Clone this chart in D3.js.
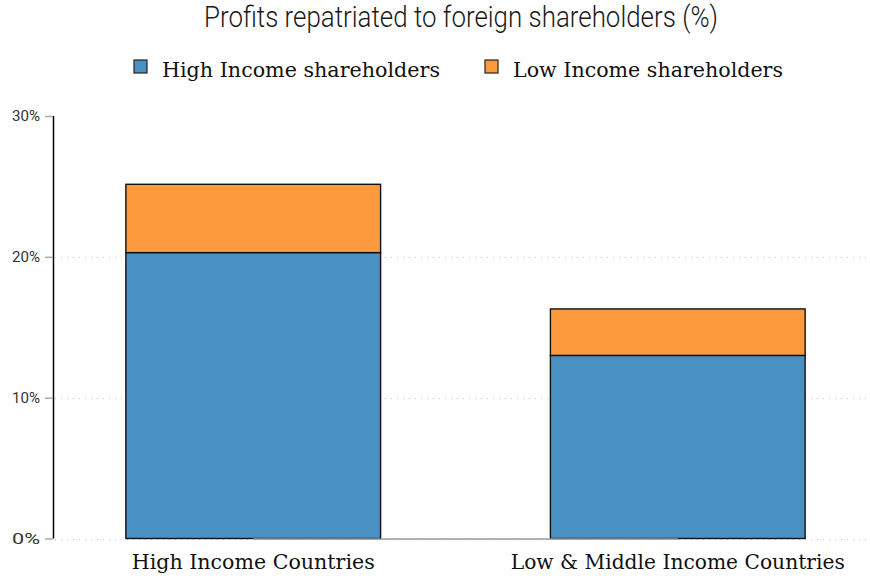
<!DOCTYPE html>
<html>
<head>
<meta charset="utf-8">
<script src="https://cdn.jsdelivr.net/npm/d3@7"></script>
<style>
  body { margin: 0; background: #fff; }
  svg { display: block; }
</style>
</head>
<body>
<svg id="chart" width="870" height="580"></svg>
<script>
const title = "Profits repatriated to foreign shareholders (%)";
const categories = ["High Income Countries", "Low & Middle Income Countries"];
const seriesNames = ["High Income shareholders", "Low Income shareholders"];
const highIncomeShare = [20.3, 13.0];
const lowIncomeShare = [4.85, 3.3];
const yTicks = [0, 10, 20, 30];
const gridTicks = [0, 10, 20];
const colors = ["#4a91c3", "#fd9a3e"];

const svg = d3.select("#chart");
const y = d3.scaleLinear().domain([0, 30]).range([538.5, 116]);
const x = d3.scaleBand().domain(categories).range([-1.5, 932.5]).paddingInner(0.4).paddingOuter(0.3);

function fit(sel, w) {
  sel.each(function () {
    const l = this.getComputedTextLength();
    if (l > 0) d3.select(this).attr("textLength", w).attr("lengthAdjust", "spacingAndGlyphs");
  });
}

// gridlines
svg.append("g").selectAll("line").data(gridTicks).join("line")
  .attr("x1", 55).attr("x2", 868)
  .attr("y1", d => Math.round(y(d)) + 0.5).attr("y2", d => Math.round(y(d)) + 0.5)
  .attr("stroke", "#c4c4c4").attr("stroke-width", 1).attr("stroke-dasharray", "1,5");

// stacked bars
const rows = categories.map((c, i) => ({ cat: c, a: highIncomeShare[i], b: lowIncomeShare[i] }));
const stack = d3.stack().keys(["a", "b"])(rows);
svg.append("g").selectAll("g").data(stack).join("g")
  .attr("fill", (d, i) => colors[i])
  .selectAll("rect").data(d => d).join("rect")
  .attr("x", d => x(d.data.cat))
  .attr("width", x.bandwidth())
  .attr("y", d => y(d[1]))
  .attr("height", d => y(d[0]) - y(d[1]))
  .attr("stroke", "#111").attr("stroke-width", 1.4);

// x axis line from first to last band center
const centers = categories.map(c => x(c) + x.bandwidth() / 2);
svg.append("line")
  .attr("x1", centers[0]).attr("x2", centers[centers.length - 1])
  .attr("y1", y(0) + 0.5).attr("y2", y(0) + 0.5)
  .attr("stroke", "#9a9a9a").attr("stroke-width", 1.5);

// y axis
const yAxis = svg.append("g").attr("transform", "translate(53,0)")
  .call(d3.axisLeft(y).tickValues(yTicks).tickFormat(d => d + "%").tickSize(8).tickPadding(5));
yAxis.select(".domain").attr("stroke", "#000").attr("stroke-width", 1.5).attr("d", `M0.5,${y(30)}V${y(0)}`);
yAxis.selectAll(".tick line").attr("stroke", "#aaa").attr("stroke-width", 1.5);
yAxis.selectAll(".tick text").attr("fill", "#333").attr("font-family", "Roboto").attr("font-weight", 400)
  .attr("font-size", 15.5).call(fit, 28);

// category labels
svg.append("g").selectAll("text").data(categories).join("text")
  .attr("x", (d, i) => centers[i]).attr("y", 569)
  .attr("text-anchor", "middle")
  .attr("font-family", "DejaVu Serif").attr("font-size", 21).attr("fill", "#111")
  .text(d => d)
  .each(function (d, i) { fit(d3.select(this), [243, 334][i]); });

// title
svg.append("text").attr("x", 461).attr("y", 27).attr("text-anchor", "middle")
  .attr("font-family", "Roboto").attr("font-weight", 300).attr("font-size", 29).attr("fill", "#1a1a1a")
  .text(title).call(fit, 514);

// legend
const legendX = [134, 485];
const legendTextW = [278, 270];
const lg = svg.append("g").selectAll("g").data(seriesNames).join("g")
  .attr("transform", (d, i) => `translate(${legendX[i]},60)`);
lg.append("rect").attr("width", 13).attr("height", 13)
  .attr("fill", (d, i) => colors[i]).attr("stroke", "#222").attr("stroke-width", 1.2);
lg.append("text").attr("x", 28).attr("y", 17)
  .attr("font-family", "DejaVu Serif").attr("font-size", 21).attr("fill", "#111")
  .text(d => d)
  .each(function (d, i) { fit(d3.select(this), legendTextW[i]); });
</script>
</body>
</html>
